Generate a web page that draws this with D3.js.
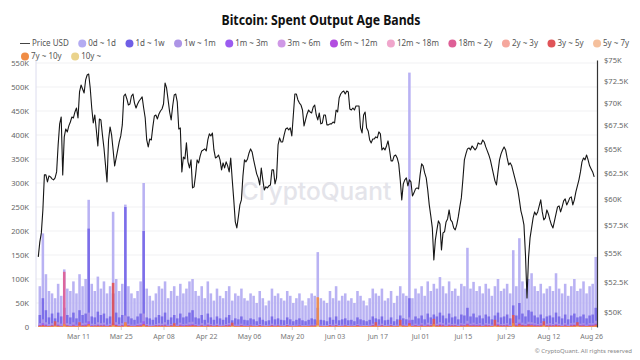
<!DOCTYPE html>
<html><head><meta charset="utf-8">
<script src="https://cdn.jsdelivr.net/npm/d3@7"></script>
<style>body{margin:0;background:#fff}svg{display:block;font-family:"Noto Sans","Open Sans",sans-serif}</style>
</head><body><svg id="c" width="640" height="360"></svg>
<script>
const titleText = "Bitcoin: Spent Output Age Bands";
const bandNames = ["0d ~ 1d","1d ~ 1w","1w ~ 1m","1m ~ 3m","3m ~ 6m","6m ~ 12m","12m ~ 18m","18m ~ 2y","2y ~ 3y","3y ~ 5y","5y ~ 7y","7y ~ 10y","10y ~"];
const bandColors = ["#b3abf2","#6f5fe6","#ad94e6","#9b5cf0","#cf98e6","#b24de0","#f0a6cc","#de5f96","#f5a79d","#e05458","#f5c09d","#f08c45","#ead38c"];
const leftTicksK = [0,50,100,150,200,250,300,350,400,450,500,550];
const rightTicksUSD = [50000,52500,55000,57500,60000,62500,65000,67500,70000,72500,75000];
const xTickDates = ["2024-03-11","2024-03-25","2024-04-08","2024-04-22","2024-05-06","2024-05-20","2024-06-03","2024-06-17","2024-07-01","2024-07-15","2024-07-29","2024-08-12","2024-08-26"];
const priceStart = "2024-02-27T00:00Z";
const priceStepHours = 12;
const priceUSD_K = [
54.63,55.97,56.78,58.92,62.34,62.34,61.64,62.24,62.14,61.94,
61.84,62.04,62.64,65.42,67.67,68.43,62.34,66.27,67.12,66.80,
67.45,67.88,68.43,68.32,68.98,69.42,68.32,71.24,72.04,71.58,
71.12,72.63,73.21,73.33,71.70,69.42,67.77,68.65,67.01,65.31,
68.21,68.10,66.48,65.10,63.35,61.64,65.94,67.34,66.48,64.89,
63.25,64.06,64.89,65.73,66.37,67.56,70.78,71.00,70.44,69.76,
69.87,70.78,71.00,69.98,69.42,69.87,70.21,70.44,70.67,69.42,
68.32,65.94,65.21,66.05,65.94,67.34,68.54,68.65,68.21,68.76,
69.09,69.31,69.87,72.27,71.70,70.33,68.98,68.10,69.65,70.89,
71.00,70.10,67.12,67.23,62.64,64.16,63.96,65.63,63.66,63.04,
63.86,61.05,61.15,62.34,63.86,63.55,64.27,64.79,64.89,65.00,
64.79,65.94,66.59,66.37,66.69,64.89,64.06,64.16,64.37,63.86,
62.84,63.55,63.04,63.66,63.25,62.64,64.06,61.84,59.88,57.79,
57.24,58.26,59.40,59.88,62.24,63.86,63.66,63.96,64.58,65.00,
64.68,63.86,63.15,62.44,62.04,61.34,63.04,61.84,60.85,61.15,
61.05,61.25,61.34,62.84,62.84,61.44,62.04,65.42,66.16,65.73,
65.73,66.48,67.12,67.23,67.01,67.23,66.37,68.65,71.00,71.00,
70.33,69.98,69.76,69.20,67.45,68.10,68.76,69.20,68.98,68.87,
69.53,69.76,68.65,68.10,68.87,67.67,67.77,68.65,68.65,67.56,
67.56,67.67,67.67,67.88,67.77,69.20,68.98,70.55,71.00,71.24,
71.35,71.00,71.35,71.24,69.31,69.20,69.42,69.20,69.65,69.65,
69.65,67.23,66.69,68.65,68.98,67.23,66.91,65.94,65.63,66.05,
66.05,66.27,66.16,66.80,66.59,64.89,65.10,64.89,65.31,65.84,
64.89,63.76,63.76,64.27,64.37,64.06,63.45,61.84,59.88,61.44,
61.84,62.04,61.25,61.84,61.64,60.26,60.56,60.95,61.05,60.95,
62.34,63.45,63.25,62.54,62.04,60.85,59.40,58.36,57.24,54.37,
56.15,57.06,57.89,57.61,55.25,56.78,56.88,57.79,58.07,58.92,
57.98,57.79,57.24,57.06,57.52,58.26,59.21,60.07,61.84,63.86,
64.48,65.00,65.10,64.89,65.31,65.10,64.89,65.10,65.63,65.52,
65.52,65.94,65.73,65.21,64.79,64.37,63.86,63.15,62.44,61.74,
61.34,62.64,63.86,64.48,64.89,65.21,64.89,64.06,63.35,63.55,
63.25,62.64,62.04,61.44,60.85,59.88,58.83,58.26,57.52,54.81,
51.14,54.55,56.33,57.24,58.17,58.73,58.45,58.73,59.30,59.88,
58.73,57.98,58.17,58.92,58.54,57.98,57.52,57.24,57.89,58.54,
59.21,59.30,58.73,59.21,59.78,59.97,59.40,59.69,60.07,60.17,
59.40,59.88,60.66,61.25,61.84,62.64,63.66,64.06,63.86,64.37,
63.86,63.25,62.94,62.64,62.14];
const barStart = "2024-02-27T00:00Z";
// daily spent outputs, thousands of BTC
const band_0d_1d = [
85,195,110,75,70,60,90,65,120,80, 75,95,70,110,85,100,265,90,75,105,
80,95,70,85,240,100,75,90,255,85, 70,60,75,95,300,80,65,55,70,85,
80,95,60,75,85,65,90,70,80,95, 100,75,65,85,60,95,70,55,80,65,
60,75,85,55,70,65,80,60,55,70, 65,50,75,60,45,55,80,65,70,60,
55,75,65,50,60,70,55,45,60,70, 65,156,60,55,50,75,60,85,55,65,
70,55,60,50,75,65,55,45,60,80, 70,65,80,55,60,75,50,65,85,70,
65,530,60,80,70,85,65,95,75,90, 80,104,85,70,95,75,80,65,90,85,
165,80,94,75,85,70,90,80,65,85, 100,75,80,90,70,160,85,185,95,80,
100,112,85,75,90,70,80,85,75,112, 80,70,90,65,85,100,75,80,95,70,85,90,146];
const band_1d_1w = [
25,60,35,20,28,18,30,22,40,25, 20,30,18,35,25,28,205,22,20,32,
25,28,18,22,70,30,20,25,250,22, 18,15,22,28,200,20,18,15,20,25,
22,30,15,20,25,18,28,20,22,30, 35,20,18,25,15,28,20,15,22,18,
15,20,25,14,18,16,22,15,14,18, 16,12,20,15,12,14,22,16,18,15,
14,20,16,12,15,18,14,12,15,18, 16,40,15,14,12,20,15,22,14,16,
18,14,15,12,20,16,14,12,15,22, 18,16,22,14,15,20,12,16,24,18,
16,60,15,22,18,24,16,28,20,26, 22,30,24,18,28,20,22,16,26,24,
40,22,28,20,24,18,26,22,16,24, 30,20,22,26,18,45,24,50,28,22,
35,32,24,20,26,18,22,24,20,30, 22,18,26,16,24,28,20,22,26,18,24,26,40];
const band_1w_1m = [
8,16,10,6,8,5,10,7,12,8, 6,10,5,11,8,9,30,7,6,10,
8,9,5,7,20,10,6,8,24,7, 5,5,7,9,28,6,5,5,6,8,
7,10,5,6,8,5,9,6,7,10, 11,6,5,8,5,9,6,5,7,5,
5,6,8,4,5,5,7,5,4,5, 5,4,6,5,4,5,7,5,5,5,
4,6,5,4,5,5,4,4,5,5, 5,12,5,4,4,6,5,7,4,5,
5,4,5,4,6,5,4,4,5,7, 5,5,7,4,5,6,4,5,8,5,
5,20,5,7,5,8,5,9,6,8, 7,10,8,5,9,6,7,5,8,7,
13,7,9,6,8,5,8,7,5,8, 10,6,7,8,5,14,8,16,9,7,
11,10,8,6,8,5,7,8,6,10, 7,5,8,5,8,9,6,7,8,5,8,8,13];
const band_1m_3m = [
4,8,5,3,4,3,5,3,6,4, 3,5,3,6,4,5,12,4,3,5,
4,5,3,4,9,5,3,4,10,4, 3,3,4,5,12,4,3,3,4,4,
4,5,3,4,4,3,5,4,4,5, 6,4,3,4,3,5,4,3,4,3,
3,4,5,3,3,3,4,3,3,3, 3,2,4,3,2,3,4,3,3,3,
2,4,3,2,3,3,2,2,3,3, 3,8,3,2,2,4,3,4,2,3,
3,2,3,2,4,3,2,2,3,4, 3,3,4,2,3,4,2,3,5,3,
3,14,3,4,3,5,3,5,4,5, 4,6,5,3,5,4,4,3,5,4,
7,4,5,4,5,3,5,4,3,5, 6,4,4,5,3,8,5,9,5,4,
6,6,5,4,5,3,4,5,4,6, 4,3,5,3,5,5,4,4,5,3,5,5,7];
const band_3m_6m = [
2,4,2,1,2,1,2,1,3,2, 1,2,1,3,2,2,6,2,1,2,
2,2,1,2,5,2,1,2,5,2, 1,1,2,2,6,2,1,1,2,2,
2,2,1,2,2,1,2,2,2,2, 3,2,1,2,1,2,2,1,2,1,
1,2,2,1,1,1,2,1,1,1, 1,1,2,1,1,1,2,1,1,1,
1,2,1,1,1,1,1,1,1,1, 1,4,1,1,1,2,1,2,1,1,
1,1,1,1,2,1,1,1,1,2, 1,1,2,1,1,2,1,1,2,1,
1,6,1,2,1,2,1,2,2,2, 2,3,2,1,2,2,2,1,2,2,
3,2,2,2,2,1,2,2,1,2, 3,2,2,2,1,4,2,4,2,2,
3,3,2,2,2,1,2,2,2,3, 2,1,2,1,2,2,2,2,2,1,2,2,3];
const band_6m_12m = [
1,3,2,1,1,1,2,1,2,1, 1,2,1,2,1,2,5,1,1,2,
1,2,1,1,4,2,1,1,4,1, 1,1,1,2,5,1,1,1,1,1,
1,2,1,1,2,1,2,1,1,2, 2,1,1,2,1,2,1,1,2,1,
1,1,2,1,1,1,2,1,1,1, 1,1,2,1,1,1,2,1,1,1,
1,2,1,1,1,1,1,1,1,1, 1,3,1,1,1,2,1,2,1,1,
1,1,1,1,2,1,1,1,1,2, 1,1,2,1,1,2,1,1,2,1,
1,5,1,2,1,2,1,2,2,2, 2,2,2,1,2,2,2,1,2,2,
3,2,2,2,2,1,2,2,1,2, 2,2,2,2,1,3,2,4,2,2,
3,3,2,2,2,1,2,2,2,2, 2,1,2,1,2,2,2,2,2,1,2,2,3];
const band_12m_18m = [
1,2,1,1,1,1,1,1,2,1, 1,1,1,2,1,1,3,1,1,1,
1,1,1,1,3,1,1,1,3,1, 1,1,1,1,3,1,1,1,1,1,
1,1,1,1,1,1,1,1,1,1, 1,1,1,1,1,1,1,1,1,1,
1,1,1,1,1,1,1,1,1,1, 1,1,1,1,1,1,1,1,1,1,
1,1,1,1,1,1,1,1,1,1, 1,2,1,1,1,1,1,1,1,1,
1,1,1,1,1,1,1,1,1,1, 1,1,1,1,1,1,1,1,1,1,
1,3,1,1,1,1,1,1,1,1, 1,1,1,1,1,1,1,1,1,1,
2,1,1,1,1,1,1,1,1,1, 1,1,1,1,1,2,1,2,1,1,
1,1,1,1,1,1,1,1,1,1, 1,1,1,1,1,1,1,1,1,1,1,1,2];
const band_18m_2y = [
1,2,1,1,1,1,1,1,115,1, 1,1,1,2,1,1,4,1,1,1,
1,1,1,1,6,1,1,1,3,1, 1,1,1,1,3,1,1,1,1,1,
1,1,1,1,2,1,1,1,1,1, 1,1,1,1,1,1,1,1,1,1,
1,1,1,2,1,1,1,1,1,1, 1,1,1,1,1,1,1,1,1,1,
1,1,1,1,1,1,1,1,1,1, 1,3,1,1,1,1,1,1,1,1,
1,1,1,1,1,1,1,1,1,1, 2,1,1,1,1,1,1,1,2,1,
1,5,1,1,1,1,1,1,1,2, 1,1,1,1,1,1,1,1,1,1,
2,1,1,1,1,1,1,1,1,2, 1,1,1,1,1,3,1,2,1,1,
1,1,1,1,1,2,1,1,1,1, 1,1,1,1,1,1,2,1,1,1,1,1,2];
const band_2y_3y = [
1,2,1,1,1,2,1,1,3,1, 1,1,1,2,1,1,3,1,1,1,
1,1,1,1,4,1,1,1,2,1, 1,1,1,1,2,1,1,1,1,1,
1,1,1,1,2,1,1,1,1,1, 2,1,1,1,1,1,1,1,1,1,
1,1,1,2,1,1,1,1,1,1, 1,1,1,1,1,1,1,1,1,1,
1,1,1,1,1,1,1,1,1,1, 1,3,1,1,1,1,1,1,1,1,
1,1,1,1,1,1,1,1,1,1, 2,1,1,1,1,1,1,1,2,1,
1,3,1,1,1,1,1,1,1,2, 1,1,1,1,1,1,1,1,1,1,
2,1,1,1,1,1,1,1,1,2, 1,1,1,1,1,3,1,2,1,1,
1,1,1,1,1,2,1,1,1,1, 1,1,1,1,1,1,2,1,1,1,1,1,2];
const band_3y_5y = [
3,4,3,2,3,12,3,2,4,3, 2,3,2,10,3,3,6,2,3,3,
3,3,2,3,92,4,2,3,7,3, 2,2,3,3,6,3,2,2,3,3,
3,3,2,3,8,2,3,2,3,3, 4,3,2,3,2,3,3,2,3,2,
2,3,3,9,2,2,3,2,2,3, 2,2,3,2,2,2,3,2,3,2,
2,3,2,2,2,3,2,2,2,3, 3,14,2,2,2,3,2,3,2,2,
3,2,2,2,3,2,2,2,2,3, 10,2,3,2,2,3,2,2,15,3,
2,8,2,3,2,3,2,3,3,17, 3,4,3,2,3,3,3,2,3,3,
5,3,3,3,3,2,3,3,2,15, 4,3,3,3,2,25,3,6,4,3,
5,4,3,3,3,12,3,3,3,4, 3,2,3,2,3,4,10,3,3,2,3,3,5];
const band_5y_7y = [
1,1,1,1,1,2,1,1,1,1, 1,1,1,2,1,1,2,1,1,1,
1,1,1,1,3,1,1,1,2,1, 1,1,1,1,2,1,1,1,1,1,
1,1,1,1,1,1,1,1,1,1, 1,1,1,1,1,1,1,1,1,1,
1,1,1,2,1,1,1,1,1,1, 1,1,1,1,1,1,1,1,1,1,
1,1,1,1,1,1,1,1,1,1, 1,3,1,1,1,1,1,1,1,1,
1,1,1,1,1,1,1,1,1,1, 1,1,1,1,1,1,1,1,2,1,
1,2,1,1,1,1,1,1,1,2, 1,1,1,1,1,1,1,1,1,1,
1,1,1,1,1,1,1,1,1,2, 1,1,1,1,1,2,1,1,1,1,
1,1,1,1,1,2,1,1,1,1, 1,1,1,1,1,1,2,1,1,1,1,1,1];
const band_7y_10y = [
2,2,1,2,2,3,2,1,6,2, 2,1,2,3,2,2,5,2,1,2,
2,2,1,2,4,2,2,1,10,2, 2,1,2,2,4,2,1,2,2,2,
2,2,1,2,3,2,2,1,2,2, 2,2,1,2,2,2,1,2,2,1,
2,1,2,3,2,1,2,2,1,2, 2,1,2,2,1,2,2,1,2,2,
1,2,2,1,2,2,1,2,2,1, 2,62,2,1,2,2,1,2,2,1,
2,2,1,2,2,1,2,2,1,2, 3,2,1,2,2,2,1,2,4,2,
2,4,2,1,2,2,2,1,2,6, 2,2,1,2,2,2,1,2,2,2,
3,2,2,1,2,2,2,1,2,3, 2,2,1,2,2,8,2,3,2,2,
2,3,2,1,2,4,2,2,1,2, 2,2,1,2,2,2,3,2,1,2,2,2,3];
const band_10y = [
0,0,0,0,0,1,0,0,1,0, 0,0,0,0,0,0,1,0,0,0,
0,0,0,0,1,0,0,0,1,0, 0,0,0,0,1,0,0,0,0,0,
0,0,0,0,0,0,0,0,0,0, 0,0,0,0,0,0,0,0,0,0,
0,0,0,1,0,0,0,0,0,0, 0,0,0,0,0,0,0,0,0,0,
0,0,0,0,0,0,0,0,0,0, 0,3,0,0,0,0,0,0,0,0,
0,0,0,0,0,0,0,0,0,0, 0,0,0,0,0,0,0,0,1,0,
0,1,0,0,0,0,0,0,0,1, 0,0,0,0,0,0,0,0,0,0,
0,0,0,0,0,0,0,0,0,1, 0,0,0,0,0,1,0,0,0,0,
0,0,0,0,0,1,0,0,0,0, 0,0,0,0,0,0,1,0,0,0,0,0,0];
const bandValues = [band_0d_1d,band_1d_1w,band_1w_1m,band_1m_3m,band_3m_6m,band_6m_12m,band_12m_18m,band_18m_2y,band_2y_3y,band_3y_5y,band_5y_7y,band_7y_10y,band_10y];

const svg = d3.select("#c");
const L = 36, R = 597, T = 60, B = 327;
const x = d3.scaleUtc().domain([new Date(Date.UTC(2024,1,26,6)), new Date(Date.UTC(2024,7,27,22))]).range([L,R]);
const yL = d3.scaleLinear().domain([0,550000]).range([B,63]);
const yR = d3.scaleLog().domain([48800,75000]).range([B,T]);

svg.append("defs").append("clipPath").attr("id","plot").append("rect").attr("x",L).attr("y",T-2).attr("width",R-L).attr("height",B-T+2);

// title
svg.append("text").attr("x",321).attr("y",25).attr("text-anchor","middle")
  .attr("font-size",14).attr("font-weight",700).attr("fill","#111")
  .attr("textLength",199).attr("lengthAdjust","spacingAndGlyphs").text(titleText);

// legend
const lg = svg.append("g").attr("font-size",8).attr("fill","#555");
let lx = 20, ly = 43.5;
lg.append("line").attr("x1",lx).attr("x2",lx+10).attr("y1",ly).attr("y2",ly).attr("stroke","#444").attr("stroke-width",1);
let t0 = lg.append("text").attr("x",lx+12).attr("y",ly+2.8).text("Price USD");
lx = lx + 12 + t0.node().getComputedTextLength() + 13.5;
bandNames.forEach((n,i)=>{
  if (i === 11) { lx = 25; ly = 56.5; }
  lg.append("circle").attr("cx",lx).attr("cy",ly).attr("r",4).attr("fill",bandColors[i]);
  const t = lg.append("text").attr("x",lx+6).attr("y",ly+2.8).text(n);
  lx = lx + 6 + t.node().getComputedTextLength() + 13.5;
});

// grid
svg.append("g").selectAll("line").data(leftTicksK.slice(1)).join("line")
  .attr("x1",L).attr("x2",R).attr("y1",d=>yL(d*1000)).attr("y2",d=>yL(d*1000))
  .attr("stroke","#f1f1f3").attr("stroke-width",1);

// watermark
svg.append("text").attr("x",316).attr("y",200).attr("text-anchor","middle")
  .attr("font-size",24.5).attr("font-weight",500).attr("fill","#e4e4ea").attr("font-family","Inter, 'Noto Sans', sans-serif")
  .text("CryptoQuant");

// bars (overlaid, each from zero)
const parse = d3.isoParse;
const bs = parse(barStart).getTime();
const day = 864e5;
const bars = svg.append("g").attr("clip-path","url(#plot)");
bandValues.forEach((arr,k)=>{
  bars.append("g").attr("fill",bandColors[k]).attr("fill-opacity",k===1?0.82:0.92)
    .selectAll("rect").data(arr).join("rect")
    .attr("x",(d,j)=>x(new Date(bs+j*day))+0.25)
    .attr("width",(d,j)=>Math.max(0.5,x(new Date(bs+(j+1)*day))-x(new Date(bs+j*day))-0.5))
    .attr("y",d=>yL(d*1000))
    .attr("height",d=>yL(0)-yL(d*1000));
});

// price line
const ps = parse(priceStart).getTime();
const line = d3.line().x((d,i)=>x(new Date(ps+i*priceStepHours*3600e3))).y(d=>yR(d*1000));
svg.append("path").datum(priceUSD_K).attr("clip-path","url(#plot)")
  .attr("d",line).attr("fill","none").attr("stroke","#161616").attr("stroke-width",1.1).attr("stroke-linejoin","round");

// left axis
const axL = svg.append("g").attr("transform",`translate(${L},0)`)
  .call(d3.axisLeft(yL).tickValues(leftTicksK.map(v=>v*1000)).tickSize(0).tickPadding(7).tickFormat(d=>d===0?"0":(d/1000)+"K"));
axL.select(".domain").remove();
axL.selectAll("text").attr("font-size",7.6).attr("fill","#666").attr("font-family","Noto Sans, sans-serif");
svg.append("line").attr("x1",L).attr("x2",L).attr("y1",T).attr("y2",B).attr("stroke","#dcdcee");

// right axis
const axR = svg.append("g").attr("transform",`translate(${R},0)`)
  .call(d3.axisRight(yR).tickValues(rightTicksUSD).tickSize(0).tickSizeOuter(0).tickPadding(7).tickFormat(d=>"$"+(d/1000)+"K"));
axR.select(".domain").attr("stroke","#333").attr("stroke-width",1.2);
axR.selectAll("text").attr("font-size",7.6).attr("fill","#666").attr("font-family","Noto Sans, sans-serif");

// x axis
const axX = svg.append("g").attr("transform",`translate(0,${B})`)
  .call(d3.axisBottom(x).tickValues(xTickDates.map(s=>parse(s+"T00:00Z"))).tickSize(3).tickPadding(4.5).tickFormat(d3.utcFormat("%b %d")));
axX.select(".domain").remove();
axX.selectAll("line").attr("stroke","#d0d0d0");
axX.selectAll("text").attr("font-size",7).attr("fill","#777").attr("font-family","Noto Sans, sans-serif");

// copyright
svg.append("text").attr("x",632).attr("y",353).attr("text-anchor","end").attr("font-size",6).attr("fill","#888").text("© CryptoQuant. All rights reserved");
</script></body></html>
